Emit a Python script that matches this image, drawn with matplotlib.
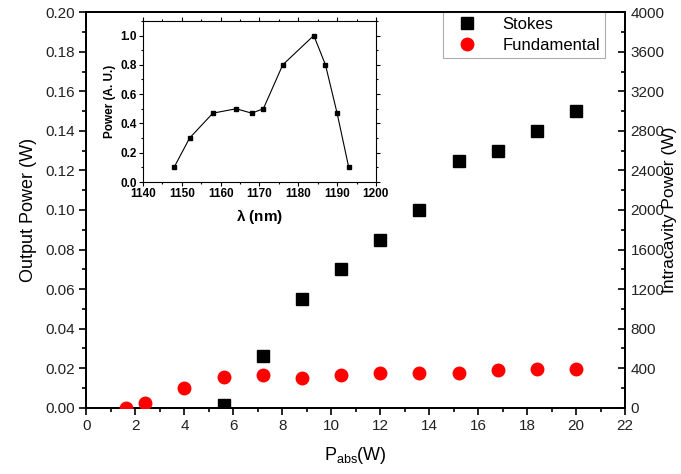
import matplotlib
matplotlib.use("Agg")
import matplotlib.pyplot as plt
from matplotlib.ticker import MultipleLocator, FormatStrFormatter
from matplotlib.lines import Line2D

plt.rcParams['font.family'] = ['Liberation Sans', 'DejaVu Sans']
plt.rcParams['mathtext.default'] = 'regular'

# Main data
p_abs_stokes = [5.6, 7.2, 8.8, 10.4, 12.0, 13.6, 15.2, 16.8, 18.4, 20.0]
stokes_power = [0.0015, 0.026, 0.055, 0.070, 0.085, 0.100, 0.125, 0.130, 0.140, 0.150]

p_abs_fund = [1.6, 2.4, 4.0, 5.6, 7.2, 8.8, 10.4, 12.0, 13.6, 15.2, 16.8, 18.4, 20.0]
fund_power = [0, 45, 197, 315, 335, 295, 335, 355, 355, 355, 376, 396, 396]

# Inset data
wavelength = [1148, 1152, 1158, 1164, 1168, 1171, 1176, 1184, 1187, 1190, 1193]
spec_power = [0.10, 0.30, 0.47, 0.50, 0.47, 0.50, 0.80, 1.00, 0.80, 0.47, 0.10]

fig = plt.figure(figsize=(6.81, 4.74), dpi=100)
ax = fig.add_axes([0.127, 0.14, 0.791, 0.834])
ax2 = ax.twinx()

ax.plot(p_abs_stokes, stokes_power, linestyle='none', marker='s', color='black',
        markersize=8, zorder=3)
ax2.plot(p_abs_fund, fund_power, linestyle='none', marker='o', color='#ff0000',
         markersize=9, zorder=3)

ax.set_xlim(0, 22)
ax.set_ylim(0, 0.20)
ax2.set_ylim(0, 4000)
ax.xaxis.set_major_locator(MultipleLocator(2))
ax.xaxis.set_minor_locator(MultipleLocator(1))
ax.yaxis.set_major_locator(MultipleLocator(0.02))
ax.yaxis.set_minor_locator(MultipleLocator(0.01))
ax.yaxis.set_major_formatter(FormatStrFormatter('%.2f'))
ax2.yaxis.set_major_locator(MultipleLocator(400))
ax2.yaxis.set_minor_locator(MultipleLocator(200))

for a in (ax, ax2):
    for s in a.spines.values():
        s.set_linewidth(1.3)
ax.tick_params(axis='both', which='major', direction='out', length=5, width=1.2,
               labelsize=11, colors='black', labelcolor='#222222')
ax.tick_params(axis='both', which='minor', direction='out', length=3, width=1.2)
ax2.tick_params(axis='y', which='major', direction='in', length=5, width=1.2,
                labelsize=11, labelcolor='#222222', pad=4)
ax2.tick_params(axis='y', which='minor', direction='in', length=3, width=1.2)

ax.set_xlabel(r'P$_{abs}$(W)', fontsize=13, labelpad=8)
ax.set_ylabel('Output Power (W)', fontsize=13, labelpad=6)
ax2.set_ylabel('Intracavity Power (W)', fontsize=12.5)
ax2.yaxis.set_label_coords(1.0683, 0.5)

handles = [Line2D([], [], linestyle='none', marker='s', color='black', markersize=8),
           Line2D([], [], linestyle='none', marker='o', color='#ff0000', markersize=9)]
leg = ax.legend(handles, ['Stokes', 'Fundamental'], loc='upper right',
                bbox_to_anchor=(0.963, 1.0), fontsize=12, frameon=True,
                fancybox=False, borderaxespad=0, handletextpad=1.0,
                borderpad=0.3, labelspacing=0.35, handlelength=2.3)
leg.get_frame().set_edgecolor('#999999')
leg.get_frame().set_linewidth(0.8)

# Inset
ins = fig.add_axes([0.21, 0.616, 0.342, 0.34])
ins.plot(wavelength, spec_power, color='black', linewidth=0.8, marker='s',
         markersize=3.5)
ins.set_xlim(1140, 1200)
ins.set_ylim(0, 1.1)
ins.xaxis.set_major_locator(MultipleLocator(10))
ins.xaxis.set_minor_locator(MultipleLocator(5))
ins.yaxis.set_major_locator(MultipleLocator(0.2))
ins.yaxis.set_minor_locator(MultipleLocator(0.1))
ins.yaxis.set_major_formatter(FormatStrFormatter('%.1f'))
ins.tick_params(axis='both', which='major', direction='out', length=3, width=0.8,
                labelsize=8.5, pad=1.5)
ins.tick_params(axis='both', which='minor', direction='out', length=1.5, width=0.8)
ins.tick_params(axis='x', which='both', top=True)
ins.tick_params(axis='y', which='both', right=True)
for lab in ins.get_xticklabels() + ins.get_yticklabels():
    lab.set_fontweight('bold')
for s in ins.spines.values():
    s.set_linewidth(0.8)
ins.set_xlabel(r'$\lambda$ (nm)', fontsize=11, fontweight='bold', labelpad=5)
ins.set_ylabel('Power (A. U.)', fontsize=8.5, fontweight='bold', labelpad=3)

fig.savefig('out.png', dpi=100)
